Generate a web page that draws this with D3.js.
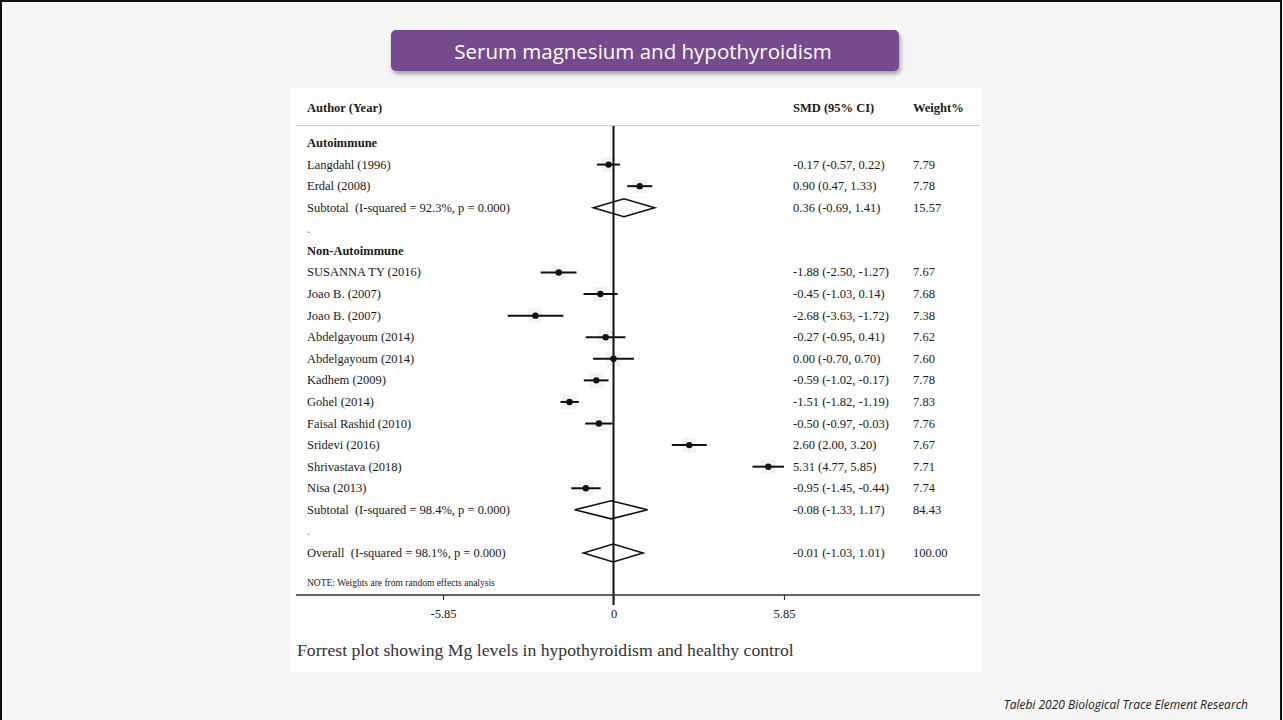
<!DOCTYPE html>
<html>
<head>
<meta charset="utf-8">
<script src="https://cdn.jsdelivr.net/npm/d3@7"></script>
<style>
  html, body { margin: 0; padding: 0; background: #f6f6f6; }
  svg { display: block; }
</style>
</head>
<body>
<svg id="chart" width="1283" height="720"></svg>
<script>
// ---- data ----
const slideTitle = "Serum magnesium and hypothyroidism";
const headers = ["Author (Year)", "SMD (95% CI)", "Weight%"];
const groupNames = ["Autoimmune", "Non-Autoimmune"];

const autoStudies = ["Langdahl (1996)", "Erdal (2008)"];
const autoSMD = [-0.17, 0.90];
const autoLo = [-0.57, 0.47];
const autoHi = [0.22, 1.33];
const autoWeight = ["7.79", "7.78"];

const nonStudies = ["SUSANNA TY (2016)", "Joao B. (2007)", "Joao B. (2007)", "Abdelgayoum (2014)",
  "Abdelgayoum (2014)", "Kadhem (2009)", "Gohel (2014)", "Faisal Rashid (2010)",
  "Sridevi (2016)", "Shrivastava (2018)", "Nisa (2013)"];
const nonSMD = [-1.88, -0.45, -2.68, -0.27, 0.00, -0.59, -1.51, -0.50, 2.60, 5.31, -0.95];
const nonLo = [-2.50, -1.03, -3.63, -0.95, -0.70, -1.02, -1.82, -0.97, 2.00, 4.77, -1.45];
const nonHi = [-1.27, 0.14, -1.72, 0.41, 0.70, -0.17, -1.19, -0.03, 3.20, 5.85, -0.44];
const nonWeight = ["7.67", "7.68", "7.38", "7.62", "7.60", "7.78", "7.83", "7.76", "7.67", "7.71", "7.74"];

const pooledLabels = ["Subtotal  (I-squared = 92.3%, p = 0.000)",
  "Subtotal  (I-squared = 98.4%, p = 0.000)",
  "Overall  (I-squared = 98.1%, p = 0.000)"];
const pooledSMD = [0.36, -0.08, -0.01];
const pooledLo = [-0.69, -1.33, -1.03];
const pooledHi = [1.41, 1.17, 1.01];
const pooledWeight = ["15.57", "84.43", "100.00"];

const tickValues = [-5.85, 0, 5.85];
const tickLabels = ["-5.85", "0", "5.85"];
const noteText = "NOTE: Weights are from random effects analysis";
const captionText = "Forrest plot showing Mg levels in hypothyroidism and healthy control";
const sourceText = "Talebi 2020 Biological Trace Element Research";

// ---- row layout ----
const rows = [];
rows.push({ kind: "group", label: groupNames[0] });
autoStudies.forEach((s, i) => rows.push({ kind: "study", label: s, est: autoSMD[i], lo: autoLo[i], hi: autoHi[i], w: autoWeight[i] }));
rows.push({ kind: "pooled", label: pooledLabels[0], est: pooledSMD[0], lo: pooledLo[0], hi: pooledHi[0], w: pooledWeight[0] });
rows.push({ kind: "dot" });
rows.push({ kind: "group", label: groupNames[1] });
nonStudies.forEach((s, i) => rows.push({ kind: "study", label: s, est: nonSMD[i], lo: nonLo[i], hi: nonHi[i], w: nonWeight[i] }));
rows.push({ kind: "pooled", label: pooledLabels[1], est: pooledSMD[1], lo: pooledLo[1], hi: pooledHi[1], w: pooledWeight[1] });
rows.push({ kind: "dot" });
rows.push({ kind: "pooled", label: pooledLabels[2], est: pooledSMD[2], lo: pooledLo[2], hi: pooledHi[2], w: pooledWeight[2] });

// plain hyphen-minus, as printed in the table
const fmt = v => d3.format(".2f")(v).replace("\u2212", "-");
const ciText = d => `${fmt(d.est)} (${fmt(d.lo)}, ${fmt(d.hi)})`;

// ---- scales ----
const x = d3.scaleLinear().domain([-5.85, 5.85]).range([443, 784]);
const y = d3.scaleLinear().domain([0, rows.length - 1]).range([143, 553]);

const svg = d3.select("#chart");
const serif = "'Liberation Serif', 'Times New Roman', serif";
const fs = "12.5px";

// slide background and frame
svg.append("rect").attr("x", 0).attr("y", 0).attr("width", 1283).attr("height", 720).attr("fill", "#f6f6f6");
svg.append("rect").attr("x", 1).attr("y", 1).attr("width", 1280).attr("height", 740)
  .attr("fill", "none").attr("stroke", "#111").attr("stroke-width", 2);

// title banner
const defs = svg.append("defs");
const shadow = defs.append("filter").attr("id", "bannerShadow")
  .attr("x", "-5%").attr("y", "-20%").attr("width", "110%").attr("height", "160%");
shadow.append("feDropShadow").attr("dx", 1.5).attr("dy", 3).attr("stdDeviation", 2)
  .attr("flood-color", "#000").attr("flood-opacity", 0.35);
svg.append("rect").attr("x", 391).attr("y", 30).attr("width", 508).attr("height", 41)
  .attr("rx", 5).attr("fill", "#764b8e").attr("filter", "url(#bannerShadow)");
svg.append("text").attr("x", 643).attr("y", 51).attr("text-anchor", "middle")
  .attr("dominant-baseline", "central")
  .style("font-family", "'Open Sans', sans-serif").style("font-size", "20.5px")
  .attr("fill", "#fff").text(slideTitle);

// figure panel
svg.append("rect").attr("x", 290).attr("y", 88).attr("width", 692).attr("height", 584).attr("fill", "#fefefe");

const g = svg.append("g").style("font-family", serif).attr("fill", "#1a1a1a");

// headers
const colLabelX = 307, colCIX = 793, colWX = 913;
[[headers[0], colLabelX], [headers[1], colCIX], [headers[2], colWX]].forEach(([t, cx]) => {
  g.append("text").attr("x", cx).attr("y", 108).attr("dominant-baseline", "central")
    .style("font-size", fs).style("font-weight", "bold").text(t);
});
g.append("line").attr("x1", 296).attr("x2", 980).attr("y1", 125.5).attr("y2", 125.5)
  .attr("stroke", "#c8c8c8").attr("stroke-width", 1.2);

// row labels
const rowG = g.selectAll("g.row").data(rows).join("g").attr("class", "row")
  .attr("transform", (d, i) => `translate(0,${y(i)})`);

rowG.filter(d => d.kind !== "dot").append("text")
  .attr("x", colLabelX).attr("dominant-baseline", "central")
  .style("font-size", fs).style("white-space", "pre")
  .style("font-weight", d => d.kind === "group" ? "bold" : "normal")
  .text(d => d.label);

rowG.filter(d => d.kind === "dot").append("text")
  .attr("x", colLabelX).attr("dominant-baseline", "central")
  .style("font-size", fs).attr("fill", "#777").text(".");

const valued = rowG.filter(d => d.kind === "study" || d.kind === "pooled");
valued.append("text").attr("x", colCIX).attr("dominant-baseline", "central")
  .style("font-size", fs).text(ciText);
valued.append("text").attr("x", colWX).attr("dominant-baseline", "central")
  .style("font-size", fs).text(d => d.w);

// study markers: weight box, CI line, point estimate
const boxSide = d => 5.2 * Math.sqrt(+d.w);
const studies = rowG.filter(d => d.kind === "study");
studies.append("rect")
  .attr("x", d => x(d.est) - boxSide(d) / 2)
  .attr("y", d => -boxSide(d) / 2)
  .attr("width", boxSide)
  .attr("height", boxSide)
  .attr("fill", "#f2f2f2");
studies.append("line")
  .attr("x1", d => x(d.lo)).attr("x2", d => x(d.hi))
  .attr("stroke", "#111").attr("stroke-width", 2);
studies.append("circle").attr("cx", d => x(d.est)).attr("r", 3.2).attr("fill", "#111");

// zero reference line
g.append("line").attr("x1", x(0)).attr("x2", x(0)).attr("y1", 126).attr("y2", 605)
  .attr("stroke", "#111").attr("stroke-width", 2);

// pooled diamonds
rowG.filter(d => d.kind === "pooled").append("path")
  .attr("d", d => `M${x(d.lo)},0 L${x(d.est)},-9 L${x(d.hi)},0 L${x(d.est)},9 Z`)
  .attr("fill", "#fff").attr("stroke", "#111").attr("stroke-width", 1.6);

// note
g.append("text").attr("x", colLabelX).attr("y", 583).attr("dominant-baseline", "central")
  .style("font-size", "9.5px").text(noteText);

// x axis
g.append("line").attr("x1", 296).attr("x2", 980).attr("y1", 595).attr("y2", 595)
  .attr("stroke", "#333").attr("stroke-width", 1.4);
const axis = d3.axisBottom(x).tickValues(tickValues).tickSize(5).tickPadding(9)
  .tickFormat((d, i) => tickLabels[i]);
const axG = g.append("g").attr("transform", "translate(0,595)").call(axis);
axG.select(".domain").remove();
axG.selectAll(".tick line").attr("stroke", "#333").attr("stroke-width", 1.2);
axG.selectAll(".tick text").style("font-family", serif).style("font-size", fs).attr("fill", "#222");

// caption
svg.append("text").attr("x", 297).attr("y", 650).attr("dominant-baseline", "central")
  .style("font-family", serif).style("font-size", "17.7px").attr("fill", "#333").text(captionText);

// source
svg.append("text").attr("x", 1248).attr("y", 704).attr("text-anchor", "end")
  .attr("dominant-baseline", "central")
  .style("font-family", "'Open Sans', sans-serif").style("font-style", "italic")
  .style("font-size", "12px").attr("fill", "#222").text(sourceText);
</script>
</body>
</html>
